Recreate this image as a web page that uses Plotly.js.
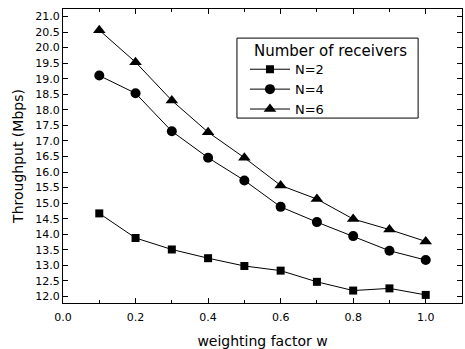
<!DOCTYPE html>
<html>
<head>
<meta charset="utf-8">
<script src="https://cdn.plot.ly/plotly-3.0.1.min.js"></script>
<style>html,body{margin:0;padding:0;background:#fff;}#chart{width:465px;height:349px;}</style>
</head>
<body>
<div id="chart"></div>
<script>
var w = [0.1, 0.2, 0.3, 0.4, 0.5, 0.6, 0.7, 0.8, 0.9, 1.0];
var n2 = [14.67, 13.88, 13.51, 13.23, 12.98, 12.83, 12.47, 12.19, 12.26, 12.05];
var n4 = [19.1, 18.53, 17.31, 16.46, 15.73, 14.88, 14.39, 13.94, 13.47, 13.17];
var n6 = [20.56, 19.53, 18.3, 17.28, 16.46, 15.57, 15.13, 14.49, 14.15, 13.77];
var seriesNames = ['N=2', 'N=4', 'N=6'];
var legendTitle = 'Number of receivers';
var xTitle = 'weighting factor w';
var yTitle = 'Throughput (Mbps)';

var font = 'DejaVu Sans, Liberation Sans, Arial, sans-serif';
function tr(y, name, sym, size) {
  return {x: w, y: y, name: name, type: 'scatter', mode: 'lines+markers',
    line: {color: '#000', width: 1},
    marker: {symbol: sym, size: size, color: '#000'}};
}
var data = [tr(n2, seriesNames[0], 'square', 8), tr(n4, seriesNames[1], 'circle', 10), tr(n6, seriesNames[2], 'triangle-up', 11)];
var layout = {
  width: 465, height: 349,
  margin: {l: 63, r: 3, t: 9, b: 46},
  paper_bgcolor: '#fff', plot_bgcolor: '#fff',
  font: {family: font, color: '#000', size: 11},
  showlegend: true,
  legend: {x: 0.431, y: 0.846, xanchor: 'left', yanchor: 'top', borderwidth: 0,
    bgcolor: 'rgba(0,0,0,0)', font: {size: 13, family: font},
    tracegroupgap: 0, itemwidth: 40, indentation: 10},
  shapes: [{type: 'rect', xref: 'paper', yref: 'paper', x0: 0.436, x1: 0.890, y0: 0.629, y1: 0.901,
    line: {color: '#000', width: 1}, fillcolor: 'rgba(0,0,0,0)', layer: 'above'}],
  annotations: [{text: legendTitle, xref: 'paper', yref: 'paper', x: 0.474, y: 0.857, xanchor: 'left', yanchor: 'middle',
    showarrow: false, font: {size: 15, family: font, color: '#000'}}],
  xaxis: {range: [0, 1.1], dtick: 0.2, tick0: 0, tickformat: '.1f', showgrid: false, zeroline: false,
    showline: true, linecolor: '#000', linewidth: 1, mirror: 'ticks', ticks: 'inside', ticklen: 5, tickcolor: '#000',
    minor: {dtick: 0.1, ticks: 'inside', ticklen: 3, tickcolor: '#000'}, ticklabelstandoff: 4,
    title: {text: xTitle, font: {size: 14, family: font}, standoff: 12}, tickfont: {size: 11}},
  yaxis: {range: [11.79, 21.24], dtick: 0.5, tick0: 12, tickformat: '.1f', showgrid: false, zeroline: false,
    showline: true, linecolor: '#000', linewidth: 1, mirror: 'ticks', ticks: 'inside', ticklen: 5, tickcolor: '#000',
    title: {text: yTitle, font: {size: 14, family: font}, standoff: 8}, tickfont: {size: 11}}
};
Plotly.newPlot('chart', data, layout, {displayModeBar: false, staticPlot: true});
</script>
</body>
</html>
